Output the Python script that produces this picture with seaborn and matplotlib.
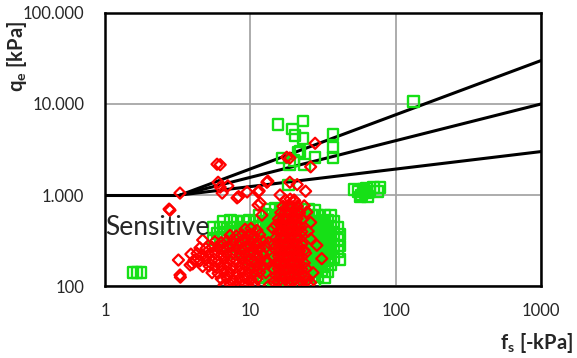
import matplotlib
matplotlib.use("Agg")
import matplotlib.pyplot as plt
import seaborn as sns
from matplotlib.ticker import FixedLocator, FixedFormatter, NullLocator

# --- values: fs [kPa] on x, qe [kPa] on y ---

# green squares: isolated points first, then the dense cloud row by row
green_x = [
    1.56, 1.66, 1.77, 132,
    15.5, 19.4, 23.0, 20.3, 23.0, 37.0, 37.0, 37.0, 16.5, 18.7, 21.3, 27.9, 23.7, 18.2, 20.0, 22.0,
    52, 55, 58, 60, 62, 64, 66, 70, 75, 78, 57, 63,
    13.5, 14.9, 16.5, 18.3, 20.3, 22.5, 25.0, 27.7,
    11.5, 12.8, 14.2, 15.7, 17.4, 19.3, 21.4, 23.7, 26.3, 29.1, 32.3, 35.8,
    6.5, 7.3, 8.1, 9.0, 9.9, 11.0, 12.2, 13.5, 14.9, 16.5, 18.3, 20.3, 22.5, 25.0, 27.7, 30.7, 34.0, 37.7,
    5.6, 6.2, 6.9, 7.7, 8.5, 9.4, 10.4, 11.5, 12.8, 14.2, 15.7, 17.4, 19.3, 21.4, 23.7, 26.3, 29.1, 32.3, 35.8, 39.7,
    5.9, 6.5, 7.3, 8.1, 9.0, 9.9, 11.0, 12.2, 13.5, 14.9, 16.5, 18.3, 20.3, 22.5, 25.0, 27.7, 30.7, 34.0, 37.7, 41.0,
    5.6, 6.2, 6.9, 7.7, 8.5, 9.4, 10.4, 11.5, 12.8, 14.2, 15.7, 17.4, 19.3, 21.4, 23.7, 26.3, 29.1, 32.3, 35.8, 39.7,
    6.5, 7.3, 8.1, 9.0, 9.9, 11.0, 12.2, 13.5, 14.9, 16.5, 18.3, 20.3, 22.5, 25.0, 27.7, 30.7, 34.0, 37.7, 41.0,
    7.7, 8.5, 9.4, 10.4, 11.5, 12.8, 14.2, 15.7, 17.4, 19.3, 21.4, 23.7, 26.3, 29.1, 32.3, 35.8, 39.7,
    9.9, 11.0, 12.2, 13.5, 14.9, 16.5, 18.3, 20.3, 22.5, 25.0, 27.7, 30.7, 34.0, 37.7, 41.0,
    10.4, 11.5, 12.8, 14.2, 15.7, 17.4, 19.3, 21.4, 23.7, 26.3, 29.1, 32.3, 35.8,
    11.0, 12.2, 13.5, 14.9, 16.5, 18.3, 20.3, 22.5, 25.0, 27.7, 30.7, 34.0,
    11.5, 12.8, 14.2, 15.7, 17.4, 19.3, 21.4, 23.7, 26.3, 29.1, 32.3,
    12.2, 13.5, 14.9, 16.5, 18.3, 20.3, 22.5, 25.0, 27.7,
]
green_y = [
    142, 142, 142, 10700,
    6000, 5300, 6500, 4550, 4200, 4650, 3300, 2600, 2550, 2150, 2960, 2600, 2150, 1290, 2400, 3000,
    1150, 1100, 1000, 1150, 1050, 960, 1100, 1200, 1100, 1200, 950, 1180,
    700, 710, 690, 705, 700, 690, 700, 680,
    600, 610, 595, 600, 605, 600, 595, 610, 600, 595, 600, 590,
    515, 520, 510, 515, 520, 510, 515, 520, 510, 515, 520, 510, 515, 520, 510, 515, 520, 510,
    440, 445, 435, 440, 445, 435, 440, 445, 435, 440, 445, 435, 440, 445, 435, 440, 445, 435, 440, 445,
    375, 370, 380, 375, 370, 380, 375, 370, 380, 375, 370, 380, 375, 370, 380, 375, 370, 380, 375, 370,
    320, 325, 315, 320, 325, 315, 320, 325, 315, 320, 325, 315, 320, 325, 315, 320, 325, 315, 320, 325,
    275, 270, 280, 275, 270, 280, 275, 270, 280, 275, 270, 280, 275, 270, 280, 275, 270, 280, 275,
    235, 238, 232, 235, 238, 232, 235, 238, 232, 235, 238, 232, 235, 238, 232, 235, 238,
    200, 203, 197, 200, 203, 197, 200, 203, 197, 200, 203, 197, 200, 203, 197,
    172, 170, 174, 172, 170, 174, 172, 170, 174, 172, 170, 174, 172,
    147, 149, 145, 147, 149, 145, 147, 149, 145, 147, 149, 145,
    126, 124, 128, 126, 124, 128, 126, 124, 128, 126, 124,
    108, 106, 110, 108, 106, 110, 108, 106, 110,
]

# red diamonds: scattered points, left lobe, then the vertical band
red_x = [
    3.28, 2.76, 2.8, 5.9, 6.2, 6.0, 7.0, 6.4, 8.1, 8.3, 9.5, 11.3, 11.7, 13.0, 18.7, 18.7, 20.0,
    12.0, 3.2, 3.28, 3.3, 3.85, 4.0, 4.7, 27.9, 26.0, 13.2, 11.5, 21.0, 24.0, 16.0, 17.8, 6.2,
    11.3, 24.5, 28.7, 31.0, 14.3, 13.3, 25.0, 26.0, 13.0, 24.0, 27.0, 26.0, 23.5,
    9.2, 10.1, 11.1,
    7.25, 8.0, 8.8, 9.65, 10.6, 11.6,
    5.7, 6.3, 6.9, 7.6, 8.4, 9.2, 10.1, 11.1, 12.2,
    4.5, 4.95, 5.45, 6.0, 6.6, 7.25, 8.0, 8.8, 9.65, 10.6, 11.6, 12.8,
    3.9, 4.3, 4.7, 5.2, 5.7, 6.3, 6.9, 7.6, 8.4, 9.2, 10.1, 11.1, 12.2,
    4.1, 4.5, 4.95, 5.45, 6.0, 6.6, 7.25, 8.0, 8.8, 9.65, 10.6, 11.6, 12.8,
    4.7, 5.2, 5.7, 6.3, 6.9, 7.6, 8.4, 9.2, 10.1, 11.1, 12.2,
    5.45, 6.0, 6.6, 7.25, 8.0, 8.8, 9.65, 10.6, 11.6, 12.8,
    6.3, 6.9, 7.6, 8.4, 9.2, 10.1, 11.1,
    6.6, 7.25, 8.0, 8.8, 9.65, 10.6,
    17.4, 18.8, 20.2,
    16.8, 18.1, 19.5, 21.0,
    16.2, 17.4, 18.8, 20.2, 21.8,
    15.6, 16.8, 18.1, 19.5, 21.0, 22.6,
    15.0, 16.2, 17.4, 18.8, 20.2, 21.8,
    15.6, 16.8, 18.1, 19.5, 21.0, 22.6,
    15.0, 16.2, 17.4, 18.8, 20.2, 21.8,
    14.5, 15.6, 16.8, 18.1, 19.5, 21.0, 22.6,
    15.0, 16.2, 17.4, 18.8, 20.2, 21.8, 23.5,
    14.5, 15.6, 16.8, 18.1, 19.5, 21.0, 22.6,
    15.0, 16.2, 17.4, 18.8, 20.2, 21.8, 23.5,
    14.5, 15.6, 16.8, 18.1, 19.5, 21.0, 22.6, 24.3,
    15.0, 16.2, 17.4, 18.8, 20.2, 21.8, 23.5,
    14.5, 15.6, 16.8, 18.1, 19.5, 21.0, 22.6, 24.3, 26.0,
    13.5, 16.2, 18.8, 21.8, 25.0,
]
red_y = [
    1050, 700, 680, 2180, 2150, 1380, 1260, 1050, 930, 960, 1080, 1080, 815, 1380, 2550, 1380, 880,
    600, 193, 132, 125, 170, 175, 320, 3700, 2040, 1420, 1110, 1300, 1100, 1000, 2600, 1220,
    775, 650, 280, 200, 430, 300, 400, 330, 180, 230, 140, 500, 760,
    420, 430, 410,
    360, 355, 365, 360, 355, 365,
    307, 300, 312, 307, 300, 312, 307, 300, 312,
    262, 258, 266, 262, 258, 266, 262, 258, 266, 262, 258, 266,
    224, 228, 220, 224, 228, 220, 224, 228, 220, 224, 228, 220, 224,
    192, 189, 195, 192, 189, 195, 192, 189, 195, 192, 189, 195, 192,
    164, 166, 162, 164, 166, 162, 164, 166, 162, 164, 166,
    140, 138, 142, 140, 138, 142, 140, 138, 142, 140,
    120, 122, 118, 120, 122, 118, 120,
    103, 105, 102, 104, 103, 105,
    880, 900, 860,
    750, 760, 740, 750,
    640, 650, 630, 645, 635,
    545, 550, 540, 545, 550, 540,
    465, 470, 460, 465, 470, 460,
    397, 400, 394, 397, 400, 394,
    338, 342, 334, 338, 342, 334,
    288, 291, 285, 288, 291, 285, 288,
    246, 249, 243, 246, 249, 243, 246,
    210, 212, 208, 210, 212, 208, 210,
    179, 181, 177, 179, 181, 177, 179,
    153, 155, 151, 153, 155, 151, 153, 155,
    130, 132, 128, 130, 132, 128, 130,
    111, 113, 109, 111, 113, 109, 111, 113, 109,
    102, 101, 103, 101, 102,
]

# boundary lines
flat_x = [1, 3.3]
flat_y = [1000, 1000]
fan_x = [3.3, 1000]
fan_ends = [30000, 10000, 3000]

x_ticks = [1, 10, 100, 1000]
x_labels = ["1", "10", "100", "1000"]
y_ticks = [100, 1000, 10000, 100000]
y_labels = ["100", "1.000", "10.000", "100.000"]

sns.set_style("white")
plt.rcParams['font.family'] = ['Lato', 'DejaVu Sans']
plt.rcParams['mathtext.fontset'] = 'custom'
plt.rcParams['mathtext.bf'] = 'Lato:bold'
plt.rcParams['mathtext.rm'] = 'Lato'

fig, ax = plt.subplots(figsize=(5.77, 3.58), dpi=100)
fig.subplots_adjust(left=0.182, right=0.9376, top=0.9637, bottom=0.2011)

# lines go under the points
sns.lineplot(x=flat_x, y=flat_y, color="black", linewidth=2.2, ax=ax, zorder=2)
for end in fan_ends:
    sns.lineplot(x=fan_x, y=[1000, end], color="black", linewidth=2.2, ax=ax, zorder=2)

sns.scatterplot(x=green_x, y=green_y, marker="s", s=60, facecolor="none",
                edgecolor="#16e016", linewidth=1.7, ax=ax, zorder=3)
sns.scatterplot(x=red_x, y=red_y, marker="D", s=32, facecolor="none",
                edgecolor="#ff0000", linewidth=1.6, ax=ax, zorder=4)

ax.set_xscale("log")
ax.set_yscale("log")
ax.set_xlim(1, 1000)
ax.set_ylim(100, 100000)

ax.xaxis.set_major_locator(FixedLocator(x_ticks))
ax.xaxis.set_major_formatter(FixedFormatter(x_labels))
ax.yaxis.set_major_locator(FixedLocator(y_ticks))
ax.yaxis.set_major_formatter(FixedFormatter(y_labels))
ax.xaxis.set_minor_locator(NullLocator())
ax.yaxis.set_minor_locator(NullLocator())

ax.grid(True, color="#a6a6a6", linewidth=1.3, zorder=0)
ax.set_axisbelow(True)
ax.tick_params(axis="both", which="major", direction="out", length=5, width=1.3,
               color="#a6a6a6", labelsize=12)
ax.tick_params(axis="x", pad=7)
ax.tick_params(axis="y", pad=10)
for sp in ax.spines.values():
    sp.set_color("black")
    sp.set_linewidth(1.8)

ax.text(1, 445, "Sensitive", fontsize=19, ha="left", va="center", zorder=5)

ax.set_ylabel(r"$\mathbf{q_e}$ [kPa]", fontsize=14.5, fontweight="bold")
ax.yaxis.set_label_coords(-0.175, 0.839)
ax.set_xlabel(r"$\mathbf{f_s}$ [-kPa]", fontsize=14.5, fontweight="bold")
ax.xaxis.set_label_coords(0.99, -0.165)

plt.savefig("out.png", dpi=100)
